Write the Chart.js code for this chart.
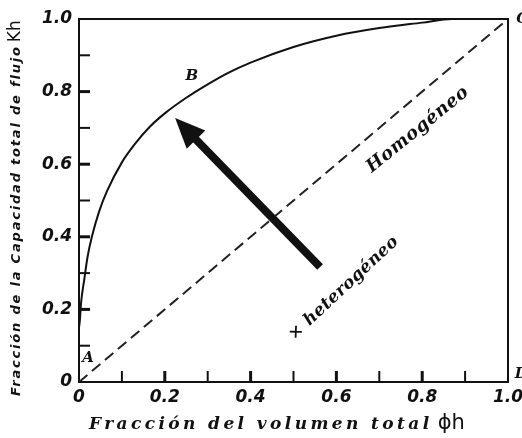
<!DOCTYPE html>
<html>
<head>
<meta charset="utf-8">
<script src="https://cdn.jsdelivr.net/npm/chart.js@4"></script>
<style>
  html, body { margin: 0; padding: 0; background: #fff; }
  #wrap { width: 522px; height: 438px; }
</style>
</head>
<body>
<div id="wrap"><canvas id="chart"></canvas></div>
<script>
// ========== DATA ==========
// curva heterogénea: fracción de volumen (phi h) vs fracción de capacidad (Kh)
const phiValues = [0, 0.002, 0.005, 0.012, 0.02, 0.03, 0.047, 0.065, 0.1, 0.13, 0.165, 0.2, 0.25, 0.3, 0.35, 0.4, 0.5, 0.6, 0.7, 0.8, 0.87, 1.0];
const khValues = [0.15, 0.17, 0.22, 0.28, 0.345, 0.40, 0.47, 0.525, 0.605, 0.655, 0.703, 0.74, 0.783, 0.82, 0.853, 0.88, 0.923, 0.954, 0.975, 0.99, 1.0, 1.0];
// línea homogénea (diagonal)
const homoPhi = [0, 1];
const homoKh = [0, 1];

const tickValues = [0, 0.2, 0.4, 0.6, 0.8, 1.0];
const xTickLabels = ["0", "0.2", "0.4", "0.6", "0.8", "1.0"];
const yTickLabels = ["0", "0.2", "0.4", "0.6", "0.8", "1.0"];
const minorTickValues = [0.1, 0.3, 0.5, 0.7, 0.9];

// letras y textos sobre el gráfico, en coordenadas de datos
const letterLabels = [
  { text: "A", phi: 0.021, kh: 0.066, align: "center" },
  { text: "B", phi: 0.263, kh: 0.843, align: "center" },
  { text: "C", phi: 1.019, kh: 1.0, align: "left" },
  { text: "D", phi: 1.016, kh: 0.022, align: "left" },
];
const slantLabels = [
  { text: "Homogéneo", phi: 0.79, kh: 0.695, angle: -39, size: 18, spacing: 0.6 },
  { text: "× heterogéneo", phi: 0.617, kh: 0.258, angle: -43, size: 17, spacing: 0.3 },
];
const arrowFrom = { phi: 0.562, kh: 0.317 };
const arrowTo = { phi: 0.224, kh: 0.727 };

const tickFont = { family: "DejaVu Sans", style: "italic", weight: "bold", size: 17 };

// ========== PLUGINS ==========
// marco del gráfico, marcas hacia adentro, flecha y textos
const framePlugin = {
  id: "frame",
  beforeDatasetsDraw(chart) {
    const { ctx, chartArea: a, scales } = chart;
    ctx.save();
    ctx.strokeStyle = "#111";
    ctx.lineCap = "butt";
    const all = tickValues.filter((v) => v > 0 && v < 1).map((v) => [v, 3])
      .concat(minorTickValues.map((v) => [v, 2]));
    all.forEach(([v, w]) => {
      ctx.lineWidth = w;
      const y = scales.y.getPixelForValue(v);
      ctx.beginPath();
      ctx.moveTo(a.left, y);
      ctx.lineTo(a.left + 11, y);
      ctx.stroke();
      const x = scales.x.getPixelForValue(v);
      ctx.beginPath();
      ctx.moveTo(x, a.bottom);
      ctx.lineTo(x, a.bottom - 11);
      ctx.stroke();
    });
    ctx.lineWidth = 2;
    ctx.strokeRect(a.left, a.top, a.right - a.left, a.bottom - a.top);
    ctx.restore();
  },
  afterDatasetsDraw(chart) {
    const { ctx, scales } = chart;
    const px = (p) => scales.x.getPixelForValue(p);
    const py = (k) => scales.y.getPixelForValue(k);
    ctx.save();
    ctx.fillStyle = "#111";

    // flecha gruesa
    const x0 = px(arrowFrom.phi), y0 = py(arrowFrom.kh);
    const x1 = px(arrowTo.phi), y1 = py(arrowTo.kh);
    const len = Math.hypot(x1 - x0, y1 - y0);
    const ux = (x1 - x0) / len, uy = (y1 - y0) / len;
    const headLen = 30, headW = 13;
    const bx = x1 - ux * headLen, by = y1 - uy * headLen;
    ctx.strokeStyle = "#111";
    ctx.lineWidth = 8;
    ctx.lineCap = "butt";
    ctx.beginPath();
    ctx.moveTo(x0, y0);
    ctx.lineTo(bx + ux * 4, by + uy * 4);
    ctx.stroke();
    ctx.beginPath();
    ctx.moveTo(x1, y1);
    ctx.lineTo(bx - uy * headW, by + ux * headW);
    ctx.lineTo(bx + uy * headW, by - ux * headW);
    ctx.closePath();
    ctx.fill();

    // letras A B C D
    ctx.font = 'italic bold 15px "DejaVu Serif"';
    ctx.textBaseline = "middle";
    letterLabels.forEach((l) => {
      ctx.textAlign = l.align;
      ctx.fillText(l.text, px(l.phi), py(l.kh));
    });

    // textos inclinados
    ctx.textAlign = "center";
    slantLabels.forEach((l) => {
      ctx.save();
      ctx.translate(px(l.phi), py(l.kh));
      ctx.rotate((l.angle * Math.PI) / 180);
      ctx.font = `italic bold ${l.size}px "DejaVu Serif"`;
      ctx.letterSpacing = l.spacing + "px";
      ctx.fillText(l.text, 0, 0);
      ctx.restore();
    });

    // título eje X
    ctx.textAlign = "left";
    ctx.textBaseline = "alphabetic";
    ctx.font = 'italic bold 17px "DejaVu Serif"';
    ctx.letterSpacing = "3.4px";
    const xTitle = "Fracción del volumen total";
    ctx.fillText(xTitle, 89, 429);
    const w = ctx.measureText(xTitle).width;
    ctx.letterSpacing = "0px";
    ctx.font = '21px "DejaVu Sans"';
    ctx.fillText("ϕh", 89 + w + 5, 429);

    // título eje Y
    ctx.save();
    ctx.translate(17, 396);
    ctx.rotate(-Math.PI / 2);
    ctx.textBaseline = "middle";
    ctx.font = 'italic bold 13px "DejaVu Sans"';
    ctx.letterSpacing = "1.8px";
    const yTitle = "Fracción de la Capacidad total de flujo";
    ctx.fillText(yTitle, 0, 0);
    const wy = ctx.measureText(yTitle).width;
    ctx.letterSpacing = "0px";
    ctx.font = '17px "DejaVu Sans"';
    ctx.fillText("Kh", wy + 3, -1);
    ctx.restore();

    ctx.restore();
  },
};

// ========== CHART ==========
const ctx = document.getElementById("chart");
new Chart(ctx, {
  type: "line",
  data: {
    datasets: [
      {
        label: "heterogéneo",
        data: phiValues.map((p, i) => ({ x: p, y: khValues[i] })),
        borderColor: "#111",
        borderWidth: 2,
        pointRadius: 0,
        cubicInterpolationMode: "monotone",
        fill: false,
      },
      {
        label: "Homogéneo",
        data: homoPhi.map((p, i) => ({ x: p, y: homoKh[i] })),
        borderColor: "#222",
        borderWidth: 2,
        borderDash: [11, 6],
        pointRadius: 0,
        fill: false,
      },
    ],
  },
  options: {
    responsive: true,
    maintainAspectRatio: false,
    animation: false,
    layout: { padding: { top: 19, right: 14, bottom: 0, left: 0 } },
    plugins: { legend: { display: false }, tooltip: { enabled: false } },
    scales: {
      x: {
        type: "linear",
        min: 0,
        max: 1,
        grid: { display: false, drawTicks: false },
        border: { display: false },
        afterBuildTicks: (s) => { s.ticks = tickValues.map((v) => ({ value: v })); },
        afterFit: (s) => { s.height = 56; s.paddingLeft = 0; s.paddingRight = 0; },
        ticks: {
          callback: (v, i) => xTickLabels[i],
          font: tickFont,
          color: "#111",
          padding: 5,
          maxRotation: 0,
          autoSkip: false,
        },
      },
      y: {
        type: "linear",
        min: 0,
        max: 1,
        grid: { display: false, drawTicks: false },
        border: { display: false },
        afterBuildTicks: (s) => { s.ticks = tickValues.map((v) => ({ value: v })); },
        afterFit: (s) => { s.width = 79; s.paddingTop = 0; s.paddingBottom = 0; },
        ticks: {
          callback: (v, i) => yTickLabels[i],
          font: tickFont,
          color: "#111",
          padding: 7,
          autoSkip: false,
        },
      },
    },
  },
  plugins: [framePlugin],
});
</script>
</body>
</html>
